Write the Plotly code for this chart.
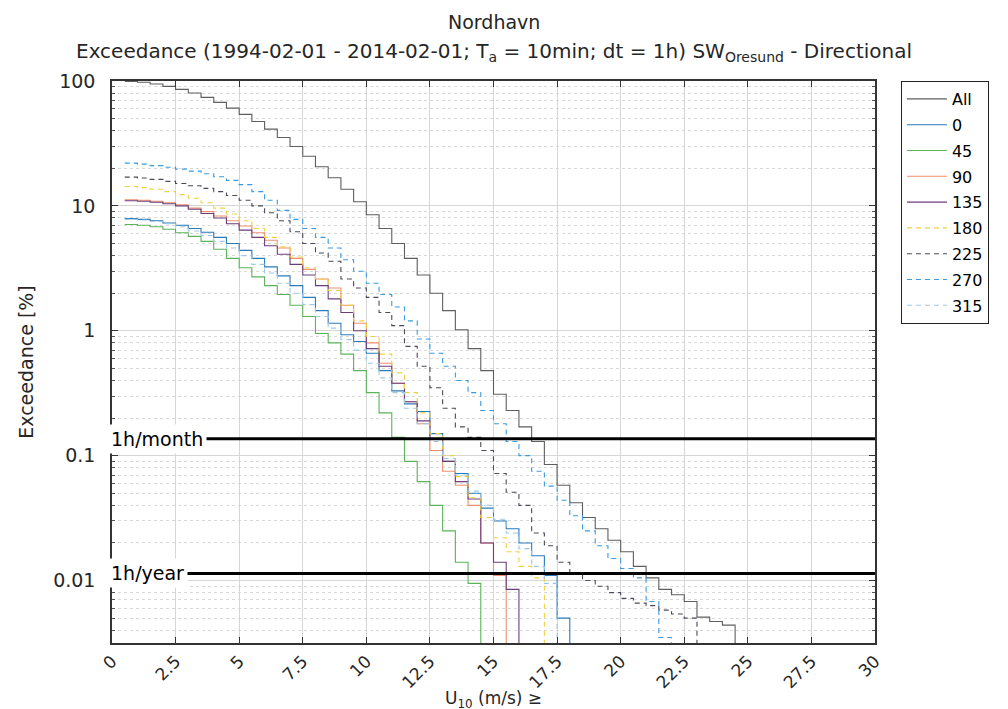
import math
import plotly.graph_objects as go

# ---------------- data ----------------
U = [0.5, 1.0, 1.5, 2.0, 2.5, 3.0, 3.5, 4.0, 4.5, 5.0,
     5.5, 6.0, 6.5, 7.0, 7.5, 8.0, 8.5, 9.0, 9.5, 10.0,
     10.5, 11.0, 11.5, 12.0, 12.5, 13.0, 13.5, 14.0, 14.5, 15.0,
     15.5, 16.0, 16.5, 17.0, 17.5, 18.0, 18.5, 19.0, 19.5, 20.0,
     20.5, 21.0, 21.5, 22.0, 22.5, 23.0, 23.5, 24.0, 24.5, 25.0]

SERIES = ["All", "0", "45", "90", "135", "180", "225", "270", "315"]

EXC_ALL = [99.4, 97.6, 94.6, 90.6, 85.7, 80.1, 73.9, 67.4, 60.7, 54.0,
           47.4, 41.2, 35.3, 29.9, 25.0, 20.6, 16.8, 13.6, 10.8, 8.5,
           6.6, 5.0, 3.8, 2.8, 2.0, 1.45, 1.02, 0.72, 0.48, 0.31,
           0.23, 0.17, 0.13, 0.085, 0.058, 0.042, 0.032, 0.026, 0.021, 0.017,
           0.013, 0.0105, 0.0085, 0.0077, 0.0068, 0.0051, 0.0047, 0.0044, 0.0006]

EXC_000 = [7.9, 7.8, 7.6, 7.3, 7.0, 6.6, 6.15, 5.6, 5.0, 4.4,
           3.8, 3.25, 2.75, 2.3, 1.85, 1.45, 1.15, 0.93, 0.82, 0.66,
           0.48, 0.33, 0.26, 0.226, 0.15, 0.09, 0.072, 0.05, 0.038, 0.030,
           0.026, 0.020, 0.0158, 0.011, 0.005, 0.0006]

EXC_045 = [7.1, 7.0, 6.8, 6.5, 6.1, 5.7, 5.2, 4.5, 3.8, 3.2,
           2.7, 2.3, 1.95, 1.6, 1.3, 0.95, 0.8, 0.65, 0.48, 0.32,
           0.22, 0.14, 0.09, 0.062, 0.04, 0.025, 0.014, 0.0095, 0.0006]

EXC_090 = [11.2, 11.1, 10.9, 10.6, 10.2, 9.6, 9.0, 8.3, 7.6, 6.9,
           6.1, 5.3, 4.6, 3.8, 3.1, 2.6, 2.2, 1.6, 1.15, 0.8,
           0.55, 0.38, 0.27, 0.18, 0.11, 0.075, 0.058, 0.04, 0.020, 0.011,
           0.0006]

EXC_135 = [11.0, 10.9, 10.7, 10.4, 10.0, 9.4, 8.7, 8.0, 7.2, 6.4,
           5.6, 4.8, 4.1, 3.4, 2.8, 2.3, 1.8, 1.4, 1.0, 0.72,
           0.52, 0.38, 0.27, 0.19, 0.135, 0.09, 0.062, 0.045, 0.020, 0.014,
           0.0085, 0.0006]

EXC_180 = [14.3, 14.0, 13.6, 13.0, 12.3, 11.5, 10.6, 9.6, 8.6, 7.6,
           6.6, 5.6, 4.7, 3.9, 3.2, 2.6, 2.1, 1.6, 1.2, 0.9,
           0.65, 0.46, 0.32, 0.22, 0.15, 0.10, 0.068, 0.046, 0.032, 0.022,
           0.017, 0.013, 0.0105, 0.0006]

EXC_225 = [17.0, 16.7, 16.3, 15.7, 15.1, 14.5, 13.8, 13.0, 12.1, 11.1,
           10.0, 8.8, 7.6, 6.2, 5.0, 4.2, 3.6, 2.6, 2.2, 1.85,
           1.4, 1.1, 0.75, 0.52, 0.35, 0.24, 0.17, 0.14, 0.11, 0.072,
           0.051, 0.040, 0.024, 0.019, 0.014, 0.0112, 0.0100, 0.0090, 0.0080, 0.0072,
           0.0066, 0.0063, 0.0058, 0.0054, 0.0050, 0.0006]

EXC_270 = [22.0, 21.6, 21.0, 20.4, 19.7, 19.0, 18.1, 17.1, 16.0, 14.8,
           13.0, 11.1, 9.2, 7.8, 6.6, 5.6, 4.6, 3.7, 3.0, 2.4,
           1.95, 1.55, 1.2, 0.86, 0.66, 0.52, 0.40, 0.32, 0.23, 0.18,
           0.13, 0.10, 0.075, 0.057, 0.044, 0.033, 0.025, 0.019, 0.015, 0.0125,
           0.0105, 0.0068, 0.0035, 0.0006]

EXC_315 = [7.8, 7.7, 7.5, 7.2, 6.8, 6.3, 5.8, 5.2, 4.6, 4.0,
           3.4, 2.9, 2.4, 2.0, 1.62, 1.3, 1.05, 0.85, 0.7, 0.55,
           0.42, 0.32, 0.24, 0.18, 0.13, 0.095, 0.07, 0.052, 0.04, 0.031,
           0.024, 0.018, 0.013, 0.0095, 0.0006]

EXCEEDANCE = [EXC_ALL, EXC_000, EXC_045, EXC_090, EXC_135,
              EXC_180, EXC_225, EXC_270, EXC_315]

REF_LABELS = ["1h/month", "1h/year"]
REF_HOURS = [730.5, 8766.0]          # hours per month / per year

X_TICKS = [0, 2.5, 5, 7.5, 10, 12.5, 15, 17.5, 20, 22.5, 25, 27.5, 30]
X_TICK_TEXT = ["0", "2.5", "5", "7.5", "10", "12.5", "15", "17.5",
               "20", "22.5", "25", "27.5", "30"]
Y_TICKS = [0.01, 0.1, 1, 10, 100]
Y_TICK_TEXT = ["0.01", "0.1", "1", "10", "100"]

# ---------------- styles ----------------
STYLE = {
    "All": ("#5e5e5e", "solid"),
    "0":   ("#2b7bba", "solid"),
    "45":  ("#5bb35b", "solid"),
    "90":  ("#f0906f", "solid"),
    "135": ("#6b3f7e", "solid"),
    "180": ("#f0d040", "5px,4px"),
    "225": ("#4a4a58", "5px,4px"),
    "270": ("#3a9ae0", "5px,4px"),
    "315": ("#9cc8e6", "5px,4px"),
}
FONT = "DejaVu Sans"
TXT = "#262626"

fig = go.Figure()

for name, vals in zip(SERIES, EXCEEDANCE):
    col, dash = STYLE[name]
    fig.add_trace(go.Scatter(
        x=U[:len(vals)], y=vals, mode="lines", name=name, legendgroup=name,
        line=dict(shape="hv", color=col, width=1.1, dash=dash)))

ref_levels = [100.0 / h for h in REF_HOURS]
for lab, lvl in zip(REF_LABELS, ref_levels):
    fig.add_trace(go.Scatter(x=[X_TICKS[0], X_TICKS[-1]], y=[lvl, lvl], mode="lines",
                             line=dict(color="black", width=3), showlegend=False,
                             hoverinfo="skip"))
    fig.add_annotation(x=-0.006, xref="paper", xanchor="left",
                       y=math.log10(lvl), yref="y", yanchor="middle",
                       text=lab, showarrow=False, bgcolor="white",
                       borderpad=3, font=dict(family=FONT, size=19, color="black"))

minor_vals = [k * 10.0 ** e for e in range(-3, 2) for k in range(2, 10)]

fig.update_layout(
    width=1008, height=709,
    margin=dict(l=104, r=141, t=73, b=74),
    paper_bgcolor="white", plot_bgcolor="white",
    font=dict(family=FONT, size=18, color=TXT),
    showlegend=True,
    legend=dict(x=1.034, xanchor="left", y=1.0, yanchor="top",
                bordercolor="#222", borderwidth=1, bgcolor="white",
                font=dict(family=FONT, size=16, color="black"),
                itemwidth=40, tracegroupgap=2, traceorder="grouped"),
    xaxis=dict(range=[0, 30], tickmode="array", tickvals=X_TICKS, ticktext=X_TICK_TEXT,
               tickangle=-45, showgrid=True, gridcolor="#d6d6d6", gridwidth=1,
               showline=True, linecolor="#333", linewidth=1.5, mirror="ticks",
               ticks="inside", ticklen=6, tickcolor="#333", zeroline=False,
               automargin=False, tickfont=dict(size=17, color=TXT)),
    yaxis=dict(type="log", range=[-2.5, 2.0], tickmode="array", tickvals=Y_TICKS,
               ticktext=Y_TICK_TEXT, showgrid=True, gridcolor="#d6d6d6", gridwidth=1,
               showline=True, linecolor="#333", linewidth=1.5, mirror="ticks",
               ticks="inside", ticklen=6, tickcolor="#333", zeroline=False,
               automargin=False, ticklabelstandoff=11,
               tickfont=dict(size=19, color=TXT),
               minor=dict(tickmode="array", tickvals=minor_vals, ticks="inside",
                          ticklen=3, tickcolor="#555", showgrid=True,
                          gridcolor="#d9d9d9", griddash="dot", gridwidth=1)),
)

# axis titles
fig.add_annotation(text="U<sub>10</sub> (m/s) ≥", xref="paper", x=0.5, yref="paper",
                   y=-0.1, xanchor="center", yanchor="middle", showarrow=False,
                   font=dict(family=FONT, size=17, color=TXT))
fig.add_annotation(text="Exceedance [%]", xref="paper", x=-0.113, yref="paper", y=0.5,
                   xanchor="center", yanchor="middle", textangle=-90, showarrow=False,
                   font=dict(family=FONT, size=19, color=TXT))

# titles
fig.add_annotation(text="Nordhavn", xref="paper", x=0.5, yref="paper", y=1.105,
                   xanchor="center", yanchor="middle", showarrow=False,
                   font=dict(family=FONT, size=19, color=TXT))
fig.add_annotation(text="Exceedance (1994-02-01 - 2014-02-01; T<sub>a</sub> = 10min; dt = 1h) "
                        "SW<sub>Oresund</sub> - Directional",
                   xref="paper", x=0.5, yref="paper", y=1.052,
                   xanchor="center", yanchor="middle", showarrow=False,
                   font=dict(family=FONT, size=20, color=TXT))

fig.write_html("out.html")
